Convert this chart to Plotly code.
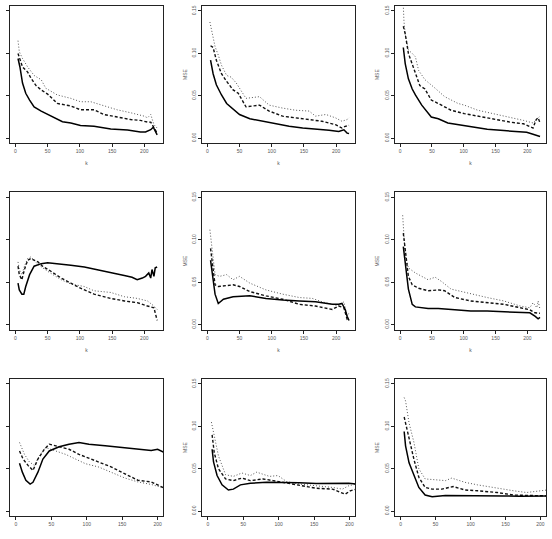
import plotly.graph_objects as go

# ---------------- data (k, MSE) ----------------
# Panel 1 (row 1, col 1)
k1_solid = [4, 7, 11, 16, 22, 29, 40, 50, 60, 73, 86, 101, 122, 148, 174, 194, 202, 210, 214, 217, 220]
v1_solid = [0.094, 0.084, 0.065, 0.053, 0.045, 0.037, 0.032, 0.028, 0.024, 0.0195, 0.018, 0.015, 0.014, 0.011, 0.0097, 0.0074, 0.0074, 0.010, 0.013, 0.008, 0.004]
k1_dash = [4, 7, 11, 19, 24, 32, 40, 50, 65, 86, 101, 122, 137, 158, 179, 194, 205, 210, 214, 217, 220]
v1_dash = [0.100, 0.092, 0.084, 0.078, 0.071, 0.062, 0.057, 0.052, 0.041, 0.038, 0.0335, 0.0335, 0.028, 0.025, 0.022, 0.021, 0.019, 0.019, 0.014, 0.010, 0.006]
k1_dot = [4, 6, 11, 19, 29, 40, 47, 65, 86, 101, 117, 137, 158, 179, 200, 205, 210, 215, 220]
v1_dot = [0.115, 0.102, 0.094, 0.084, 0.074, 0.069, 0.059, 0.051, 0.047, 0.043, 0.043, 0.038, 0.0335, 0.030, 0.026, 0.024, 0.028, 0.016, 0.012]

# Panel 2 (row 1, col 2)
k2_solid = [5, 9, 14, 22, 30, 40, 50, 66, 86, 107, 127, 148, 168, 189, 204, 212, 217, 220]
v2_solid = [0.092, 0.076, 0.063, 0.051, 0.041, 0.034, 0.028, 0.023, 0.020, 0.017, 0.014, 0.012, 0.011, 0.0094, 0.008, 0.010, 0.006, 0.0055]
k2_dash = [5, 9, 14, 22, 30, 40, 48, 60, 81, 96, 117, 137, 158, 178, 199, 209, 214, 220]
v2_dash = [0.109, 0.107, 0.092, 0.076, 0.067, 0.057, 0.053, 0.037, 0.039, 0.032, 0.026, 0.024, 0.022, 0.020, 0.016, 0.012, 0.014, 0.015]
k2_dot = [4, 7, 12, 17, 22, 30, 37, 45, 60, 81, 96, 117, 137, 158, 168, 184, 199, 209, 217, 220]
v2_dot = [0.137, 0.127, 0.108, 0.098, 0.086, 0.074, 0.072, 0.065, 0.047, 0.049, 0.039, 0.0355, 0.033, 0.032, 0.026, 0.028, 0.024, 0.020, 0.022, 0.024]

# Panel 3 (row 1, col 3)
k3_solid = [5, 8, 13, 19, 24, 34, 49, 60, 75, 91, 111, 137, 163, 189, 199, 209, 220]
v3_solid = [0.107, 0.088, 0.070, 0.058, 0.051, 0.039, 0.025, 0.023, 0.018, 0.016, 0.0135, 0.0105, 0.009, 0.0074, 0.007, 0.0047, 0.002]
k3_dash = [5, 8, 13, 19, 24, 31, 39, 49, 65, 80, 101, 122, 147, 173, 194, 209, 214, 217, 220]
v3_dash = [0.132, 0.123, 0.100, 0.088, 0.078, 0.062, 0.058, 0.045, 0.039, 0.033, 0.029, 0.026, 0.022, 0.019, 0.017, 0.012, 0.022, 0.024, 0.018]
k3_dot = [4, 6, 8, 13, 19, 24, 29, 39, 55, 70, 91, 101, 122, 147, 173, 194, 209, 217, 220]
v3_dot = [0.175, 0.138, 0.123, 0.104, 0.100, 0.096, 0.080, 0.069, 0.059, 0.049, 0.041, 0.039, 0.033, 0.029, 0.025, 0.021, 0.018, 0.024, 0.026]

# Panel 4 (row 2, col 1)
k4_solid = [4, 6, 10, 13, 16, 22, 29, 40, 50, 65, 86, 107, 127, 148, 169, 181, 189, 197, 202, 207, 210, 212, 215, 217, 220]
v4_solid = [0.049, 0.041, 0.036, 0.036, 0.045, 0.059, 0.069, 0.072, 0.073, 0.072, 0.070, 0.068, 0.065, 0.061, 0.058, 0.056, 0.053, 0.055, 0.057, 0.061, 0.055, 0.065, 0.057, 0.067, 0.068]
k4_dash = [4, 6, 10, 14, 19, 24, 35, 42, 55, 71, 86, 101, 122, 148, 169, 189, 205, 215, 217, 220]
v4_dash = [0.069, 0.059, 0.053, 0.065, 0.076, 0.078, 0.074, 0.069, 0.063, 0.055, 0.049, 0.043, 0.036, 0.031, 0.028, 0.026, 0.022, 0.020, 0.014, 0.005]
k4_dot = [4, 6, 10, 14, 19, 24, 35, 50, 71, 86, 107, 122, 148, 169, 189, 205, 215, 220]
v4_dot = [0.074, 0.065, 0.059, 0.069, 0.078, 0.080, 0.071, 0.063, 0.053, 0.048, 0.045, 0.040, 0.038, 0.033, 0.031, 0.028, 0.022, 0.018]

# Panel 5 (row 2, col 2)
k5_solid = [5, 8, 12, 17, 25, 40, 66, 91, 117, 143, 168, 194, 204, 209, 214, 217, 220]
v5_solid = [0.076, 0.057, 0.036, 0.025, 0.030, 0.033, 0.034, 0.031, 0.029, 0.028, 0.027, 0.024, 0.024, 0.025, 0.018, 0.010, 0.005]
k5_dash = [5, 8, 12, 17, 30, 40, 50, 66, 91, 117, 143, 168, 194, 204, 212, 217, 220]
v5_dash = [0.090, 0.069, 0.047, 0.045, 0.046, 0.047, 0.045, 0.039, 0.034, 0.030, 0.024, 0.022, 0.018, 0.022, 0.020, 0.0066, 0.0085]
k5_dot = [4, 8, 12, 19, 30, 40, 50, 66, 91, 117, 143, 163, 178, 194, 204, 212, 217, 220]
v5_dot = [0.112, 0.084, 0.059, 0.057, 0.059, 0.053, 0.057, 0.049, 0.041, 0.036, 0.032, 0.031, 0.027, 0.024, 0.022, 0.027, 0.010, 0.014]

# Panel 6 (row 2, col 3)
k6_solid = [5, 8, 13, 19, 24, 44, 60, 86, 111, 137, 163, 189, 204, 212, 217, 220]
v6_solid = [0.092, 0.073, 0.042, 0.024, 0.021, 0.019, 0.019, 0.0175, 0.016, 0.016, 0.015, 0.014, 0.014, 0.010, 0.007, 0.0085]
k6_dash = [5, 8, 13, 19, 29, 44, 60, 70, 86, 111, 137, 163, 189, 204, 212, 217, 220]
v6_dash = [0.108, 0.089, 0.057, 0.047, 0.043, 0.040, 0.041, 0.040, 0.032, 0.028, 0.026, 0.024, 0.020, 0.0175, 0.014, 0.0135, 0.0135]
k6_dot = [4, 6, 8, 13, 24, 34, 44, 55, 65, 80, 101, 122, 137, 163, 189, 204, 209, 215, 217, 220]
v6_dot = [0.129, 0.104, 0.081, 0.067, 0.061, 0.057, 0.053, 0.056, 0.051, 0.042, 0.038, 0.034, 0.032, 0.028, 0.022, 0.020, 0.026, 0.020, 0.028, 0.018]

# Panel 7 (row 3, col 1)
k7_solid = [5, 9, 14, 20, 24, 31, 38, 47, 61, 75, 89, 103, 126, 149, 172, 191, 200, 210]
v7_solid = [0.0565, 0.046, 0.0365, 0.032, 0.034, 0.046, 0.0615, 0.071, 0.076, 0.079, 0.081, 0.079, 0.077, 0.075, 0.073, 0.0715, 0.073, 0.069]
k7_dash = [5, 10, 17, 24, 31, 40, 47, 61, 75, 89, 103, 117, 135, 154, 172, 191, 210]
v7_dash = [0.071, 0.0615, 0.054, 0.048, 0.0615, 0.073, 0.079, 0.076, 0.073, 0.067, 0.0625, 0.058, 0.052, 0.044, 0.0365, 0.0345, 0.027]
k7_dot = [5, 12, 19, 26, 33, 42, 56, 70, 84, 98, 117, 135, 154, 172, 191, 210]
v7_dot = [0.081, 0.067, 0.058, 0.054, 0.065, 0.075, 0.071, 0.067, 0.0615, 0.056, 0.052, 0.046, 0.039, 0.0345, 0.0315, 0.027]

# Panel 8 (row 3, col 2)
k8_solid = [6, 8, 13, 20, 29, 36, 46, 60, 83, 106, 129, 153, 176, 199, 210]
v8_solid = [0.073, 0.058, 0.042, 0.031, 0.025, 0.026, 0.031, 0.033, 0.034, 0.034, 0.0335, 0.0325, 0.0325, 0.033, 0.032]
k8_dash = [6, 9, 15, 25, 36, 48, 60, 78, 92, 106, 129, 153, 176, 194, 201, 210]
v8_dash = [0.090, 0.069, 0.050, 0.038, 0.036, 0.039, 0.036, 0.038, 0.036, 0.034, 0.031, 0.027, 0.026, 0.020, 0.024, 0.026]
k8_dot = [5, 9, 15, 25, 36, 48, 60, 69, 87, 99, 111, 129, 153, 176, 190, 199, 210]
v8_dot = [0.105, 0.088, 0.065, 0.043, 0.041, 0.045, 0.042, 0.046, 0.041, 0.042, 0.035, 0.032, 0.030, 0.028, 0.026, 0.030, 0.032]

# Panel 9 (row 3, col 3)
k9_solid = [5, 7, 12, 19, 26, 35, 45, 64, 101, 148, 171, 194, 210]
v9_solid = [0.094, 0.077, 0.057, 0.042, 0.028, 0.019, 0.017, 0.0185, 0.0185, 0.018, 0.0175, 0.018, 0.018]
k9_dash = [5, 7, 12, 19, 26, 35, 45, 59, 75, 92, 110, 138, 162, 185, 210]
v9_dash = [0.111, 0.104, 0.084, 0.061, 0.040, 0.028, 0.026, 0.026, 0.029, 0.025, 0.024, 0.022, 0.019, 0.0185, 0.018]
k9_dot = [5, 7, 12, 19, 26, 35, 50, 64, 73, 92, 110, 138, 162, 180, 194, 210]
v9_dot = [0.134, 0.130, 0.104, 0.081, 0.050, 0.038, 0.037, 0.036, 0.039, 0.034, 0.031, 0.027, 0.024, 0.022, 0.023, 0.025]

x_ticks = [0, 50, 100, 150, 200]
y_ticks = [0.00, 0.05, 0.10, 0.15]
y_tick_labels = ["0.00", "0.05", "0.10", "0.15"]

panels = [
    (k1_solid, v1_solid, k1_dash, v1_dash, k1_dot, v1_dot),
    (k2_solid, v2_solid, k2_dash, v2_dash, k2_dot, v2_dot),
    (k3_solid, v3_solid, k3_dash, v3_dash, k3_dot, v3_dot),
    (k4_solid, v4_solid, k4_dash, v4_dash, k4_dot, v4_dot),
    (k5_solid, v5_solid, k5_dash, v5_dash, k5_dot, v5_dot),
    (k6_solid, v6_solid, k6_dash, v6_dash, k6_dot, v6_dot),
    (k7_solid, v7_solid, k7_dash, v7_dash, k7_dot, v7_dot),
    (k8_solid, v8_solid, k8_dash, v8_dash, k8_dot, v8_dot),
    (k9_solid, v9_solid, k9_dash, v9_dash, k9_dot, v9_dot),
]

# ---------------- layout ----------------
W, H = 552, 539
col_px = [(4, 159), (198, 353), (393, 546)]
row_px = [(5, 145), (195, 335), (385, 525)]
x_ranges = [[-8.5, 229.5], [-8.5, 229.5], [-8.5, 208]]
y_range = [-0.006, 0.156]

AX = "#222222"
TXT = "#555555"
FONT = dict(size=5, color=TXT, family="Liberation Sans")

fig = go.Figure()
layout = dict(
    width=W, height=H,
    margin=dict(l=0, r=0, t=0, b=0),
    paper_bgcolor="white", plot_bgcolor="white",
    showlegend=False,
)

for i, (ks, vs, kd, vd, kt, vt) in enumerate(panels):
    r, c = divmod(i, 3)
    n = i + 1
    xa = "x" if n == 1 else f"x{n}"
    ya = "y" if n == 1 else f"y{n}"
    fig.add_trace(go.Scatter(x=kt, y=vt, xaxis=xa, yaxis=ya, mode="lines",
                             line=dict(color="#555555", width=1, dash="1px,2px"), hoverinfo="skip"))
    fig.add_trace(go.Scatter(x=kd, y=vd, xaxis=xa, yaxis=ya, mode="lines",
                             line=dict(color="#111111", width=1.4, dash="3px,2px"), hoverinfo="skip"))
    fig.add_trace(go.Scatter(x=ks, y=vs, xaxis=xa, yaxis=ya, mode="lines",
                             line=dict(color="#000000", width=1.5), hoverinfo="skip"))

    x0, x1 = col_px[c]
    y0, y1 = row_px[r]
    xkey = "xaxis" if n == 1 else f"xaxis{n}"
    ykey = "yaxis" if n == 1 else f"yaxis{n}"
    layout[xkey] = dict(
        domain=[x0 / W, x1 / W], range=x_ranges[r], anchor=ya,
        showline=True, mirror=True, linecolor=AX, linewidth=1,
        ticks="outside", ticklen=3, tickwidth=1, tickcolor=AX,
        tickvals=x_ticks, showgrid=False, zeroline=False,
        tickfont=FONT,
        title=dict(text="k" if r < 2 else "", font=FONT, standoff=8),
    )
    layout[ykey] = dict(
        domain=[1 - y1 / H, 1 - y0 / H], range=y_range, anchor=xa,
        showline=True, mirror=True, linecolor=AX, linewidth=1,
        ticks="outside", ticklen=3, tickwidth=1, tickcolor=AX,
        tickvals=y_ticks, ticktext=y_tick_labels, tickangle=-90,
        showticklabels=(c > 0),
        showgrid=False, zeroline=False,
        tickfont=FONT,
        title=dict(text="MSE" if c > 0 else "", font=FONT, standoff=3),
    )

fig.update_layout(**layout)
fig.write_html("out.html")
